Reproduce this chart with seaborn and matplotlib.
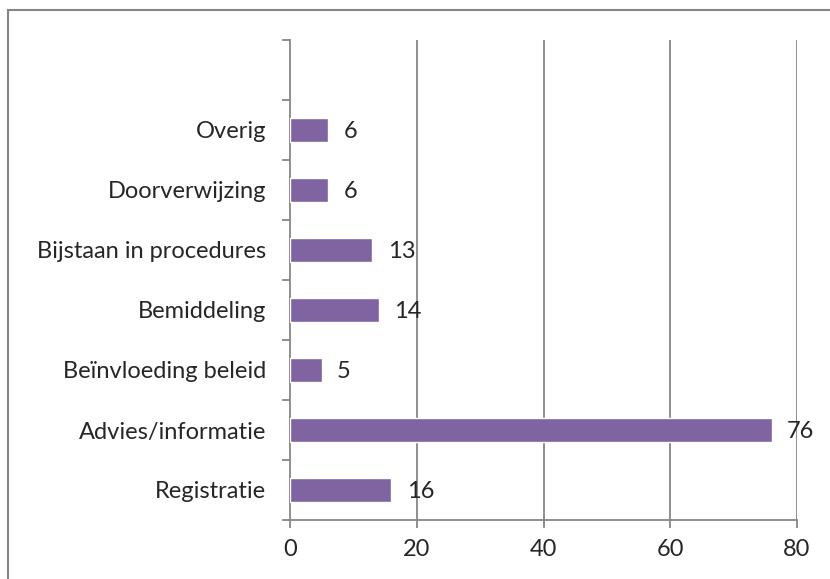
import matplotlib
matplotlib.use('Agg')
import matplotlib.pyplot as plt
import seaborn as sns
import pandas as pd
import numpy as np
from matplotlib.patches import Rectangle

# Categories from top to bottom (top slot is empty in the original)
categories = ['', 'Overig', 'Doorverwijzing', 'Bijstaan in procedures', 'Bemiddeling',
              'Beïnvloeding beleid', 'Advies/informatie', 'Registratie']
values = [np.nan, 6, 6, 13, 14, 5, 76, 16]
x_ticks = [0, 20, 40, 60, 80]

sns.set_theme(style='white')
plt.rcParams['font.family'] = ['Lato', 'DejaVu Sans']

df = pd.DataFrame({'category': categories, 'value': values})

fig = plt.figure(figsize=(8.3, 5.79), dpi=100)
ax = fig.add_axes([290 / 830, 1 - 520 / 579, (797 - 290) / 830, (520 - 40) / 579])

grid_color = '#868686'
sns.barplot(data=df, x='value', y='category', order=categories, color='#8064A2',
            saturation=1, width=0.4, ax=ax, zorder=3)

ax.set_xlim(0, 80)
ax.set_xticks(x_ticks)
ax.set_ylim(len(categories) - 0.5, -0.5)
ax.set_xlabel('')
ax.set_ylabel('')

# vertical gridlines
for t in x_ticks[1:]:
    ax.axvline(t, color=grid_color, lw=1.3, zorder=1)

for side in ['top', 'right']:
    ax.spines[side].set_visible(False)
for side in ['left', 'bottom']:
    ax.spines[side].set_color(grid_color)
    ax.spines[side].set_linewidth(1.3)

# category labels without tick marks, tick marks at the boundaries
ax.set_yticks(range(len(categories)))
ax.set_yticklabels(categories, fontsize=17)
ax.tick_params(axis='y', which='major', length=0, pad=17)
ax.set_yticks(np.arange(-0.5, len(categories), 1), minor=True)
ax.tick_params(axis='y', which='minor', left=True, length=6, width=1.3, color=grid_color)
ax.tick_params(axis='x', which='major', bottom=True, length=6, width=1.3, color=grid_color,
               labelsize=17, pad=8)

# data labels
for i, v in enumerate(values):
    if not np.isnan(v):
        ax.annotate(f'{int(v)}', xy=(v, i), xytext=(11, -1), textcoords='offset points',
                    va='center', ha='left', fontsize=17, zorder=4)

# outer chart border (cut off at right and bottom)
fig.patches.append(Rectangle((8 / 830, -0.1), 1.2, 1 - 10 / 579 + 0.1,
                             transform=fig.transFigure, fill=False,
                             edgecolor=grid_color, lw=1.5))

fig.savefig('out.png', dpi=100)
